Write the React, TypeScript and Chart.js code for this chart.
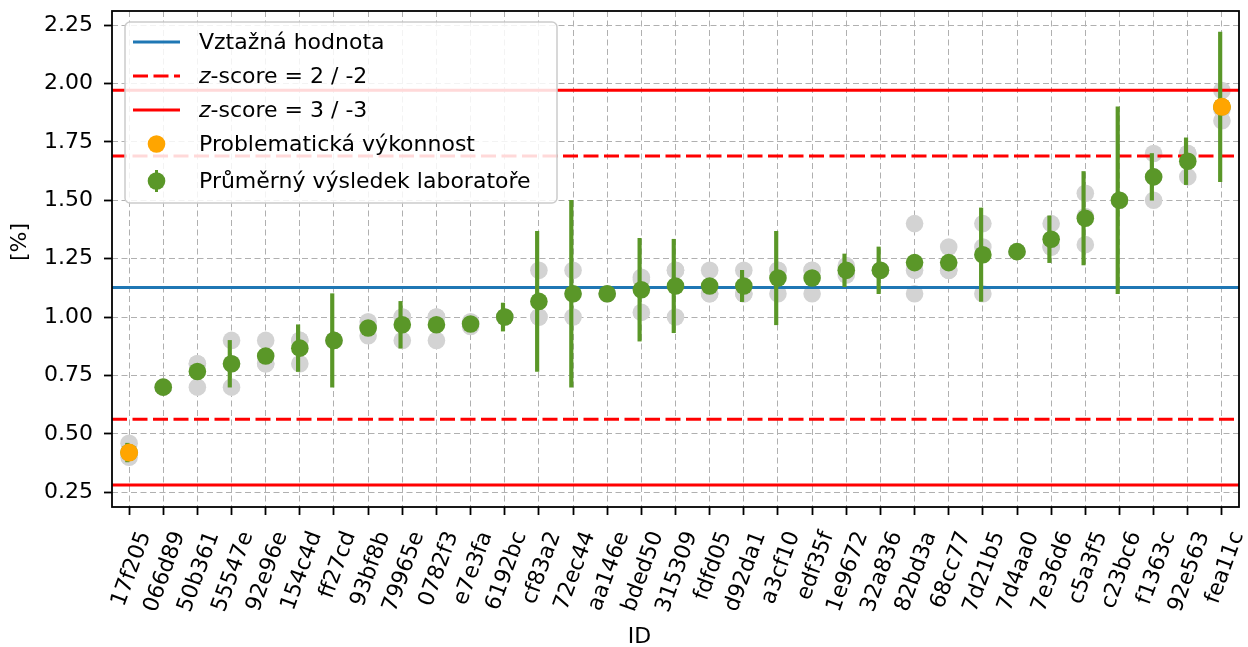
import React, { useEffect, useRef } from 'react';
import { Chart, registerables } from 'chart.js';

Chart.register(...registerables);

// ---------------- data ----------------
const LABELS = [
  '17f205', '066d89', '50b361', '55547e', '92e96e', '154c4d', 'ff27cd', '93bf8b', '79965e', '0782f3', 'e7e3fa',
  '6192bc', 'cf83a2', '72ec44', 'aa146e', 'bded50', '315309', 'fdfd05', 'd92da1', 'a3cf10', 'edf35f', '1e9672',
  '32a836', '82bd3a', '68cc77', '7d21b5', '7d4aa0', '7e36d6', 'c5a3f5', 'c23bc6', 'f1363c', '92e563', 'fea11c',
];

const MEANS = [
  0.42, 0.70, 0.767, 0.80, 0.833, 0.867, 0.90, 0.953, 0.967, 0.967, 0.97,
  1.00, 1.067, 1.10, 1.10, 1.117, 1.133, 1.133, 1.133, 1.167, 1.167, 1.20,
  1.20, 1.233, 1.233, 1.267, 1.28, 1.333, 1.423, 1.50, 1.60, 1.667, 1.90,
];

// half-width of each laboratory's error bar (0 = none visible)
const ERRORS = [
  0.04, 0, 0, 0.10, 0, 0.10, 0.20, 0, 0.10, 0, 0,
  0.06, 0.30, 0.40, 0, 0.22, 0.20, 0, 0.067, 0.20, 0, 0.07,
  0.10, 0, 0, 0.20, 0, 0.10, 0.20, 0.40, 0.10, 0.10, 0.32,
];

// individual results of each laboratory
const RESULTS = [
  [0.46, 0.40], [0.70, 0.70], [0.80, 0.80, 0.70], [0.90, 0.80, 0.70], [0.90, 0.80, 0.80], [0.90, 0.90, 0.80],
  [0.90, 0.90], [0.98, 0.96, 0.92], [1.00, 1.00, 0.90], [1.00, 1.00, 0.90], [0.98, 0.97, 0.96],
  [1.00, 1.00], [1.20, 1.00, 1.00], [1.20, 1.10, 1.00], [1.10, 1.10], [1.17, 1.16, 1.02], [1.20, 1.20, 1.00],
  [1.20, 1.10, 1.10], [1.20, 1.10, 1.10], [1.20, 1.20, 1.10], [1.20, 1.20, 1.10], [1.22, 1.20, 1.18],
  [1.20, 1.20], [1.40, 1.20, 1.10], [1.30, 1.20, 1.20], [1.40, 1.30, 1.10], [1.28, 1.28], [1.40, 1.30, 1.30],
  [1.53, 1.43, 1.31], [1.50, 1.50], [1.70, 1.60, 1.50], [1.70, 1.70, 1.60], [1.97, 1.89, 1.84],
];

const PROBLEM_IDS = ['17f205', 'fea11c'];

const REF_VALUE = 1.126;
const Z2_LIMITS = [0.563, 1.689];
const Z3_LIMITS = [0.281, 1.971];

const Y_TICKS = [0.25, 0.5, 0.75, 1.0, 1.25, 1.5, 1.75, 2.0, 2.25];
const Y_MIN = 0.187;
const Y_MAX = 2.31;

const LEGEND_TEXTS = [
  'Vztažná hodnota',
  'z-score = 2 / -2',
  'z-score = 3 / -3',
  'Problematická výkonnost',
  'Průměrný výsledek laboratoře',
];

// ---------------- style ----------------
const FONT = "'DejaVu Sans', sans-serif";
const FS = 22;
const GREEN = '#5a9728';
const ORANGE = '#ffa500';
const BLUE = '#1f77b4';
const RED = '#ff0000';
const GRAY = '#d3d3d3';
const GRID = '#b0b0b0';
const GRID_DASH = [6, 3.5];
const RED_DASH = [15, 5.5];

const framePlugin = {
  id: 'frame',
  afterDatasetsDraw(chart: any) {
    const { ctx, chartArea: a } = chart;
    ctx.save();
    ctx.strokeStyle = '#000';
    ctx.lineWidth = 1.8;
    ctx.strokeRect(a.left, a.top, a.right - a.left, a.bottom - a.top);
    ctx.restore();
  },
};

const titlesPlugin = {
  id: 'axisTitles',
  afterDraw(chart: any) {
    const { ctx, chartArea: a } = chart;
    ctx.save();
    ctx.fillStyle = '#000';
    ctx.font = `${FS}px ${FONT}`;
    ctx.textAlign = 'center';
    ctx.textBaseline = 'middle';
    ctx.fillText('ID', (a.left + a.right) / 2 - 36, 637);
    ctx.translate(20, (a.top + a.bottom) / 2 - 17);
    ctx.rotate(-Math.PI / 2);
    ctx.fillText('[%]', 0, 0);
    ctx.restore();
  },
};

const legendPlugin = {
  id: 'mplLegend',
  afterDraw(chart: any) {
    const { ctx, chartArea: a } = chart;
    const x0 = a.left + 13;
    const y0 = a.top + 11;
    const w = 432;
    const h = 181;
    const r = 5;
    ctx.save();
    ctx.beginPath();
    ctx.moveTo(x0 + r, y0);
    ctx.lineTo(x0 + w - r, y0);
    ctx.arcTo(x0 + w, y0, x0 + w, y0 + r, r);
    ctx.lineTo(x0 + w, y0 + h - r);
    ctx.arcTo(x0 + w, y0 + h, x0 + w - r, y0 + h, r);
    ctx.lineTo(x0 + r, y0 + h);
    ctx.arcTo(x0, y0 + h, x0, y0 + h - r, r);
    ctx.lineTo(x0, y0 + r);
    ctx.arcTo(x0, y0, x0 + r, y0, r);
    ctx.closePath();
    ctx.fillStyle = 'rgba(255,255,255,0.85)';
    ctx.fill();
    ctx.strokeStyle = '#cccccc';
    ctx.lineWidth = 1.5;
    ctx.stroke();

    const rows = [20, 54, 88, 122, 159].map((d) => y0 + d);
    const hx0 = x0 + 8;
    const hx1 = x0 + 55;
    const hxc = (hx0 + hx1) / 2;
    const tx = x0 + 74;

    const line = (y: number, color: string, dash: number[]) => {
      ctx.beginPath();
      ctx.setLineDash(dash);
      ctx.strokeStyle = color;
      ctx.lineWidth = 3;
      ctx.moveTo(hx0, y);
      ctx.lineTo(hx1, y);
      ctx.stroke();
      ctx.setLineDash([]);
    };
    line(rows[0], BLUE, []);
    line(rows[1], RED, RED_DASH);
    line(rows[2], RED, []);

    ctx.fillStyle = ORANGE;
    ctx.beginPath();
    ctx.arc(hxc, rows[3], 8.8, 0, Math.PI * 2);
    ctx.fill();

    ctx.fillStyle = GREEN;
    ctx.fillRect(hxc - 1.5, rows[4] - 11, 3, 22);
    ctx.beginPath();
    ctx.arc(hxc, rows[4], 8.8, 0, Math.PI * 2);
    ctx.fill();

    ctx.fillStyle = '#000';
    ctx.textAlign = 'left';
    ctx.textBaseline = 'middle';
    LEGEND_TEXTS.forEach((t, i) => {
      const y = rows[i] + 1;
      if (t.startsWith('z-score')) {
        ctx.font = `italic ${FS}px ${FONT}`;
        ctx.fillText('z', tx, y);
        const zw = ctx.measureText('z').width;
        ctx.font = `${FS}px ${FONT}`;
        ctx.fillText(t.slice(1), tx + zw, y);
      } else {
        ctx.font = `${FS}px ${FONT}`;
        ctx.fillText(t, tx, y);
      }
    });
    ctx.restore();
  },
};

export default function App() {
  const canvasRef = useRef<HTMLCanvasElement | null>(null);

  useEffect(() => {
    document.body.style.margin = '0';
    const canvas = canvasRef.current;
    if (!canvas) return;

    const grayPoints: { x: string; y: number }[] = [];
    RESULTS.forEach((vals, i) => vals.forEach((v) => grayPoints.push({ x: LABELS[i], y: v })));

    const hLine = (y: number) => [{ x: 0, y }, { x: 1, y }];

    const chart = new Chart(canvas, {
      type: 'line',
      data: {
        labels: LABELS,
        datasets: [
          {
            type: 'line',
            label: 'Problematická výkonnost',
            data: LABELS.map((l, i) => (PROBLEM_IDS.includes(l) ? MEANS[i] : null)),
            showLine: false,
            pointRadius: 9,
            pointBackgroundColor: ORANGE,
            pointBorderWidth: 0,
            xAxisID: 'x',
            order: 0,
          },
          {
            type: 'line',
            label: 'Průměrný výsledek laboratoře',
            data: MEANS,
            showLine: false,
            pointRadius: 8.8,
            pointBackgroundColor: GREEN,
            pointBorderWidth: 0,
            xAxisID: 'x',
            order: 1,
          },
          {
            type: 'bar',
            label: 'error',
            data: MEANS.map((m, i) => (ERRORS[i] > 0 ? [m - ERRORS[i], m + ERRORS[i]] : null)) as any,
            backgroundColor: GREEN,
            barThickness: 3.5,
            borderWidth: 0,
            xAxisID: 'x',
            order: 2,
          },
          {
            type: 'line',
            label: 'Vztažná hodnota',
            data: hLine(REF_VALUE),
            borderColor: BLUE,
            borderWidth: 3,
            pointRadius: 0,
            xAxisID: 'xl',
            order: 3,
          },
          ...Z2_LIMITS.map((v) => ({
            type: 'line' as const,
            label: 'z-score = 2 / -2',
            data: hLine(v),
            borderColor: RED,
            borderWidth: 3,
            borderDash: RED_DASH,
            pointRadius: 0,
            xAxisID: 'xl',
            order: 4,
          })),
          ...Z3_LIMITS.map((v) => ({
            type: 'line' as const,
            label: 'z-score = 3 / -3',
            data: hLine(v),
            borderColor: RED,
            borderWidth: 3,
            pointRadius: 0,
            xAxisID: 'xl',
            order: 5,
          })),
          {
            type: 'line',
            label: 'results',
            data: grayPoints as any,
            showLine: false,
            pointRadius: 8.8,
            pointBackgroundColor: GRAY,
            pointBorderWidth: 0,
            xAxisID: 'x',
            order: 10,
          },
        ],
      },
      options: {
        responsive: false,
        animation: false,
        events: [],
        layout: { padding: { top: 11, right: 1, left: 0, bottom: 0 } },
        plugins: { legend: { display: false }, tooltip: { enabled: false } },
        scales: {
          x: {
            type: 'category',
            offset: true,
            afterFit: (s: any) => {
              s.height = 140;
              s.paddingLeft = 0;
              s.paddingRight = 0;
            },
            grid: {
              offset: false,
              color: GRID,
              lineWidth: 1,
              tickColor: '#000',
              tickLength: 8,
              tickWidth: 1.8,
              tickBorderDash: [],
            } as any,
            border: { display: false, dash: GRID_DASH },
            ticks: {
              autoSkip: false,
              minRotation: 70,
              maxRotation: 70,
              color: '#000',
              padding: 13,
              labelOffset: 16,
              font: { family: FONT, size: FS },
            },
          },
          xl: {
            type: 'linear',
            display: false,
            min: 0,
            max: 1,
          },
          y: {
            type: 'linear',
            min: Y_MIN,
            max: Y_MAX,
            afterFit: (s: any) => {
              s.width = 112;
              s.paddingTop = 0;
              s.paddingBottom = 0;
            },
            afterBuildTicks: (s: any) => {
              s.ticks = Y_TICKS.map((v) => ({ value: v }));
            },
            grid: {
              color: GRID,
              lineWidth: 1,
              tickColor: '#000',
              tickLength: 8,
              tickWidth: 1.8,
              tickBorderDash: [],
            } as any,
            border: { display: false, dash: GRID_DASH },
            ticks: {
              color: '#000',
              padding: 11,
              font: { family: FONT, size: FS },
              callback: (v: any) => Number(v).toFixed(2),
            },
          },
        },
      },
      plugins: [framePlugin, titlesPlugin, legendPlugin],
    } as any);

    return () => chart.destroy();
  }, []);

  return (
    <div style={{ width: 1248, height: 647 }}>
      <canvas ref={canvasRef} width={1248} height={647} style={{ display: 'block' }} />
    </div>
  );
}
